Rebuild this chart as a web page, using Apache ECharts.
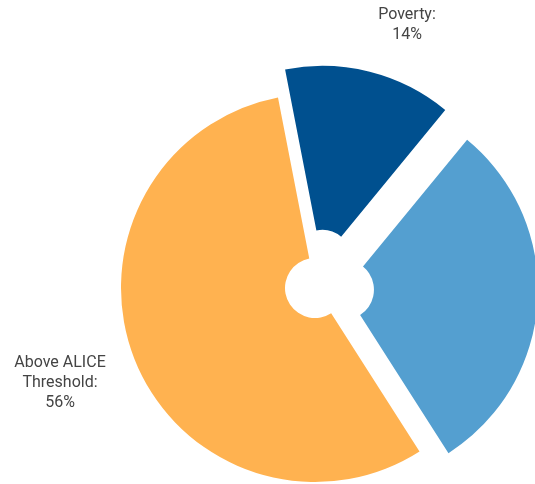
<!DOCTYPE html>
<html>
<head>
<meta charset="utf-8">
<script src="https://cdn.jsdelivr.net/npm/echarts@6/dist/echarts.min.js"></script>
<style>
  html, body { margin: 0; padding: 0; background: #fff; }
  #chart { width: 535px; height: 484px; }
</style>
</head>
<body>
<div id="chart"></div>
<script>
  // data
  var categories = ['Poverty', 'ALICE', 'Above ALICE Threshold'];
  var labelNames = ['Poverty:', 'ALICE:', 'Above ALICE\nThreshold:'];
  var values = [14, 30, 56];
  var exploded = [true, true, false];
  var showLabel = [true, false, true];
  var colors = ['#00508F', '#549FD0', '#FFB250'];

  var pieData = categories.map(function (name, i) {
    return {
      name: name,
      value: values[i],
      selected: exploded[i],
      itemStyle: { color: colors[i] }
    };
  });

  // label anchors (top-centre of each text block)
  var labelPos = [[407, 5], [600, 300], [60, 353]];

  var labels = [];
  categories.forEach(function (name, i) {
    if (!showLabel[i]) return;
    labels.push({
      type: 'text',
      x: labelPos[i][0],
      y: labelPos[i][1],
      style: {
        text: labelNames[i] + '\n' + values[i] + '%',
        fill: '#444',
        font: '16px Roboto',
        lineHeight: 20,
        textAlign: 'center',
        textVerticalAlign: 'top'
      }
    });
  });

  var myChart = echarts.init(document.getElementById('chart'));
  myChart.setOption({
    animation: false,
    graphic: labels,
    series: [{
      type: 'pie',
      center: [315, 288],
      radius: [30, 194],
      startAngle: 101,
      clockwise: true,
      selectedMode: 'multiple',
      selectedOffset: 29,
      emphasis: { disabled: true },
      select: { itemStyle: {} },
      label: { show: false },
      labelLine: { show: false },
      data: pieData
    }]
  });
</script>
</body>
</html>
